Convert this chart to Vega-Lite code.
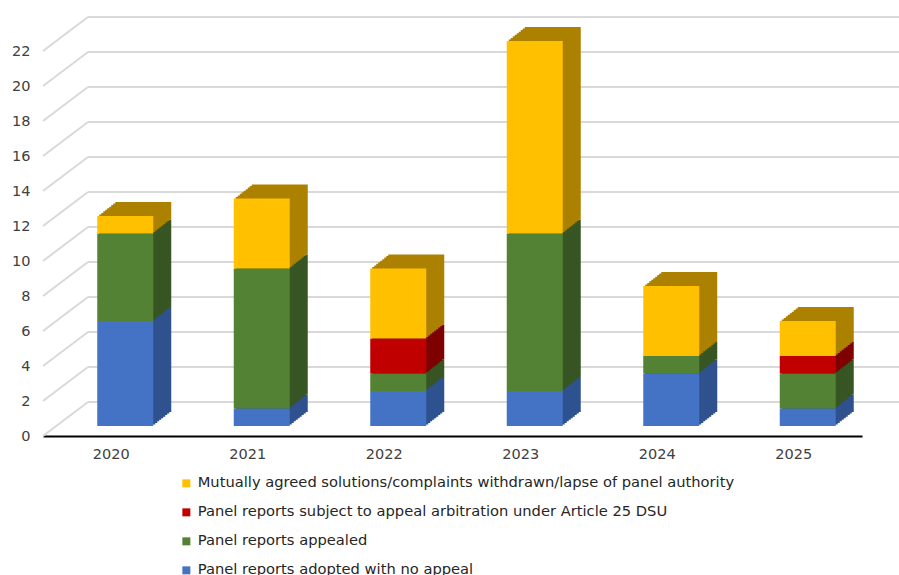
{
  "$schema": "https://vega.github.io/schema/vega-lite/v6.json",
  "width": 819,
  "height": 385,
  "autosize": "none",
  "padding": {"left": 43, "top": 51, "right": 37, "bottom": 139},
  "background": "white",
  "config": {
    "view": {"stroke": null},
    "font": "DejaVu Sans",
    "axis": {"labelFont": "DejaVu Sans", "labelColor": "#404040", "labelFontSize": 14.5},
    "legend": {"labelFont": "DejaVu Sans", "labelColor": "#262626", "labelFontSize": 14.7}
  },
  "datasets": {
    "bars": [
      {"year": "2020", "k": 1, "cat": "Panel reports adopted with no appeal", "n": 6},
      {"year": "2020", "k": 2, "cat": "Panel reports appealed", "n": 5},
      {"year": "2020", "k": 4, "cat": "Mutually agreed solutions/complaints withdrawn/lapse of panel authority", "n": 1},
      {"year": "2021", "k": 1, "cat": "Panel reports adopted with no appeal", "n": 1},
      {"year": "2021", "k": 2, "cat": "Panel reports appealed", "n": 8},
      {"year": "2021", "k": 4, "cat": "Mutually agreed solutions/complaints withdrawn/lapse of panel authority", "n": 4},
      {"year": "2022", "k": 1, "cat": "Panel reports adopted with no appeal", "n": 2},
      {"year": "2022", "k": 2, "cat": "Panel reports appealed", "n": 1},
      {"year": "2022", "k": 3, "cat": "Panel reports subject to appeal arbitration under Article 25 DSU", "n": 2},
      {"year": "2022", "k": 4, "cat": "Mutually agreed solutions/complaints withdrawn/lapse of panel authority", "n": 4},
      {"year": "2023", "k": 1, "cat": "Panel reports adopted with no appeal", "n": 2},
      {"year": "2023", "k": 2, "cat": "Panel reports appealed", "n": 9},
      {"year": "2023", "k": 4, "cat": "Mutually agreed solutions/complaints withdrawn/lapse of panel authority", "n": 11},
      {"year": "2024", "k": 1, "cat": "Panel reports adopted with no appeal", "n": 3},
      {"year": "2024", "k": 2, "cat": "Panel reports appealed", "n": 1},
      {"year": "2024", "k": 4, "cat": "Mutually agreed solutions/complaints withdrawn/lapse of panel authority", "n": 4},
      {"year": "2025", "k": 1, "cat": "Panel reports adopted with no appeal", "n": 1},
      {"year": "2025", "k": 2, "cat": "Panel reports appealed", "n": 2},
      {"year": "2025", "k": 3, "cat": "Panel reports subject to appeal arbitration under Article 25 DSU", "n": 1},
      {"year": "2025", "k": 4, "cat": "Mutually agreed solutions/complaints withdrawn/lapse of panel authority", "n": 2}
    ],
    "grid": [
      {"v": 0}, {"v": 2}, {"v": 4}, {"v": 6}, {"v": 8}, {"v": 10},
      {"v": 12}, {"v": 14}, {"v": 16}, {"v": 18}, {"v": 20}, {"v": 22}
    ]
  },
  "data": {"name": "bars"},
  "encoding": {
    "x": {
      "field": "year", "type": "ordinal",
      "scale": {"paddingInner": 0, "paddingOuter": 0},
      "axis": {"title": null, "labelAngle": 0, "ticks": false, "domain": true, "domainColor": "#000000", "domainWidth": 2, "labelPadding": 11, "grid": false}
    },
    "y": {
      "field": "n", "type": "quantitative", "stack": "zero",
      "scale": {"domain": [0, 22], "nice": false},
      "axis": {"title": null, "values": [0, 2, 4, 6, 8, 10, 12, 14, 16, 18, 20, 22], "grid": false, "domain": false, "ticks": false, "labelPadding": 13}
    },
    "order": {"field": "k", "type": "quantitative", "sort": "ascending"}
  },
  "layer": [
    {
      "data": {"name": "grid"},
      "mark": {"type": "rule", "color": "#D9D9D9", "strokeWidth": 2, "xOffset": 45, "x2Offset": 37, "yOffset": -34, "y2Offset": -34},
      "encoding": {
        "x": {"value": 0},
        "x2": {"value": "width"},
        "y": {"field": "v", "type": "quantitative", "axis": {"title": null, "values": [0, 2, 4, 6, 8, 10, 12, 14, 16, 18, 20, 22], "grid": false, "domain": false, "ticks": false, "labelPadding": 13}},
        "y2": {"field": "v"},
        "order": null
      }
    },
    {
      "data": {"name": "grid"},
      "mark": {"type": "rule", "color": "#D9D9D9", "strokeWidth": 2, "x2Offset": 45, "y2Offset": -34},
      "encoding": {
        "x": {"value": 0},
        "x2": {"value": 0},
        "y": {"field": "v", "type": "quantitative", "axis": {"title": null, "values": [0, 2, 4, 6, 8, 10, 12, 14, 16, 18, 20, 22], "grid": false, "domain": false, "ticks": false, "labelPadding": 13}},
        "y2": {"field": "v"},
        "order": null
      }
    },
    {"mark": {"type": "bar", "size": 56, "xOffset": 32, "yOffset": -24, "y2Offset": -24},
     "encoding": {"color": {"field": "cat", "type": "nominal", "scale": {"domain": ["Panel reports adopted with no appeal", "Panel reports appealed", "Panel reports subject to appeal arbitration under Article 25 DSU", "Mutually agreed solutions/complaints withdrawn/lapse of panel authority"], "range": ["#2F528F", "#375623", "#7F0000", "#AC8100"]}, "legend": null}}},
    {"mark": {"type": "bar", "size": 56, "xOffset": 30, "yOffset": -22.4, "y2Offset": -22.4},
     "encoding": {"color": {"field": "cat", "type": "nominal", "scale": {"domain": ["Panel reports adopted with no appeal", "Panel reports appealed", "Panel reports subject to appeal arbitration under Article 25 DSU", "Mutually agreed solutions/complaints withdrawn/lapse of panel authority"], "range": ["#2F528F", "#375623", "#7F0000", "#AC8100"]}, "legend": null}}},
    {"mark": {"type": "bar", "size": 56, "xOffset": 28, "yOffset": -20.9, "y2Offset": -20.9},
     "encoding": {"color": {"field": "cat", "type": "nominal", "scale": {"domain": ["Panel reports adopted with no appeal", "Panel reports appealed", "Panel reports subject to appeal arbitration under Article 25 DSU", "Mutually agreed solutions/complaints withdrawn/lapse of panel authority"], "range": ["#2F528F", "#375623", "#7F0000", "#AC8100"]}, "legend": null}}},
    {"mark": {"type": "bar", "size": 56, "xOffset": 26, "yOffset": -19.3, "y2Offset": -19.3},
     "encoding": {"color": {"field": "cat", "type": "nominal", "scale": {"domain": ["Panel reports adopted with no appeal", "Panel reports appealed", "Panel reports subject to appeal arbitration under Article 25 DSU", "Mutually agreed solutions/complaints withdrawn/lapse of panel authority"], "range": ["#2F528F", "#375623", "#7F0000", "#AC8100"]}, "legend": null}}},
    {"mark": {"type": "bar", "size": 56, "xOffset": 24, "yOffset": -17.8, "y2Offset": -17.8},
     "encoding": {"color": {"field": "cat", "type": "nominal", "scale": {"domain": ["Panel reports adopted with no appeal", "Panel reports appealed", "Panel reports subject to appeal arbitration under Article 25 DSU", "Mutually agreed solutions/complaints withdrawn/lapse of panel authority"], "range": ["#2F528F", "#375623", "#7F0000", "#AC8100"]}, "legend": null}}},
    {"mark": {"type": "bar", "size": 56, "xOffset": 22, "yOffset": -16.2, "y2Offset": -16.2},
     "encoding": {"color": {"field": "cat", "type": "nominal", "scale": {"domain": ["Panel reports adopted with no appeal", "Panel reports appealed", "Panel reports subject to appeal arbitration under Article 25 DSU", "Mutually agreed solutions/complaints withdrawn/lapse of panel authority"], "range": ["#2F528F", "#375623", "#7F0000", "#AC8100"]}, "legend": null}}},
    {"mark": {"type": "bar", "size": 56, "xOffset": 20, "yOffset": -14.7, "y2Offset": -14.7},
     "encoding": {"color": {"field": "cat", "type": "nominal", "scale": {"domain": ["Panel reports adopted with no appeal", "Panel reports appealed", "Panel reports subject to appeal arbitration under Article 25 DSU", "Mutually agreed solutions/complaints withdrawn/lapse of panel authority"], "range": ["#2F528F", "#375623", "#7F0000", "#AC8100"]}, "legend": null}}},
    {"mark": {"type": "bar", "size": 56, "xOffset": 18, "yOffset": -13.1, "y2Offset": -13.1},
     "encoding": {"color": {"field": "cat", "type": "nominal", "scale": {"domain": ["Panel reports adopted with no appeal", "Panel reports appealed", "Panel reports subject to appeal arbitration under Article 25 DSU", "Mutually agreed solutions/complaints withdrawn/lapse of panel authority"], "range": ["#2F528F", "#375623", "#7F0000", "#AC8100"]}, "legend": null}}},
    {"mark": {"type": "bar", "size": 56, "xOffset": 16, "yOffset": -11.6, "y2Offset": -11.6},
     "encoding": {"color": {"field": "cat", "type": "nominal", "scale": {"domain": ["Panel reports adopted with no appeal", "Panel reports appealed", "Panel reports subject to appeal arbitration under Article 25 DSU", "Mutually agreed solutions/complaints withdrawn/lapse of panel authority"], "range": ["#2F528F", "#375623", "#7F0000", "#AC8100"]}, "legend": null}}},
    {"mark": {"type": "bar", "size": 56, "xOffset": 14, "yOffset": -10, "y2Offset": -10},
     "encoding": {"color": {"field": "cat", "type": "nominal", "scale": {"domain": ["Panel reports adopted with no appeal", "Panel reports appealed", "Panel reports subject to appeal arbitration under Article 25 DSU", "Mutually agreed solutions/complaints withdrawn/lapse of panel authority"], "range": ["#4472C4", "#548235", "#C00000", "#FFC000"]},
       "legend": {"title": null, "orient": "none", "legendX": 136, "legendY": 425, "symbolType": "square", "symbolSize": 64, "symbolStrokeWidth": 0, "rowPadding": 13, "labelOffset": 4, "labelLimit": 0, "values": ["Mutually agreed solutions/complaints withdrawn/lapse of panel authority", "Panel reports subject to appeal arbitration under Article 25 DSU", "Panel reports appealed", "Panel reports adopted with no appeal"]}}}}
  ],
  "resolve": {"scale": {"color": "independent"}}
}
